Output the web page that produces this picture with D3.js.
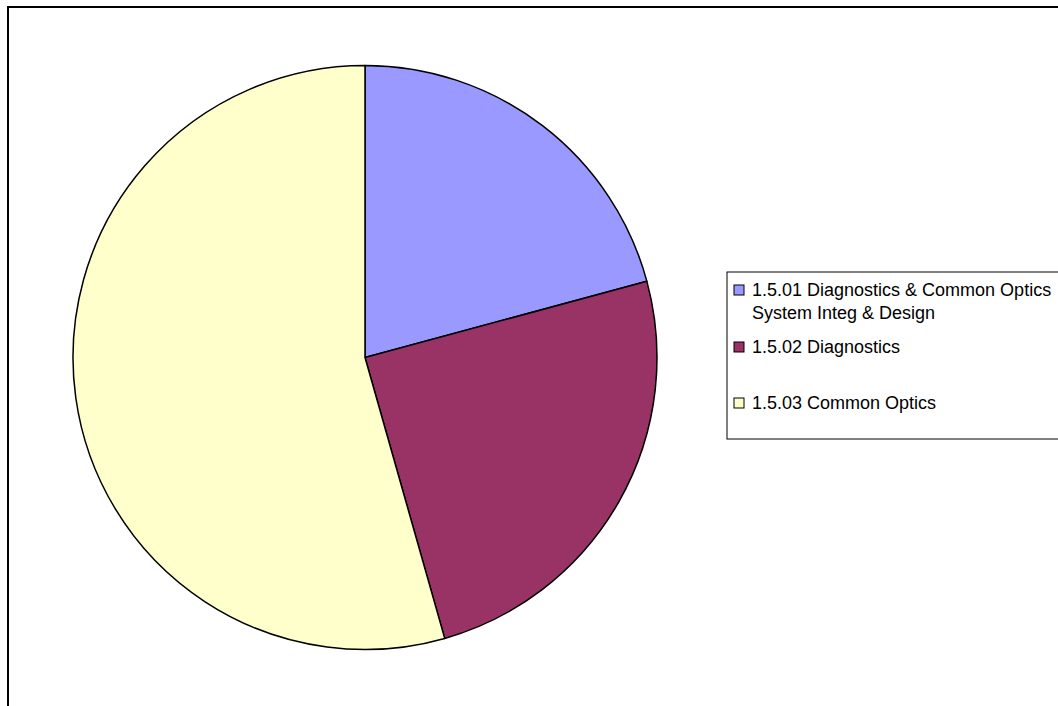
<!DOCTYPE html>
<html>
<head>
<meta charset="utf-8">
<script src="https://cdn.jsdelivr.net/npm/d3@7"></script>
<style>
  body { margin: 0; background: #fff; }
  svg { display: block; }
</style>
</head>
<body>
<div class="content"></div>
<script>
// data
var categories = ["1.5.01 Diagnostics & Common Optics System Integ & Design", "1.5.02 Diagnostics", "1.5.03 Common Optics"];
var values = [20.8, 24.8, 54.4];
var legendLines = [["1.5.01 Diagnostics & Common Optics", "System Integ & Design"], ["1.5.02 Diagnostics"], ["1.5.03 Common Optics"]];
var colors = ["#9999ff", "#993366", "#ffffcc"];

var width = 1058, height = 706;

var svg = d3.select(".content")
    .append("svg")
    .attr("width", width)
    .attr("height", height);

// chart frame (runs off right and bottom)
svg.append("rect")
    .attr("x", 8)
    .attr("y", 7)
    .attr("width", width + 20)
    .attr("height", height + 20)
    .attr("fill", "#fff")
    .attr("stroke", "#000")
    .attr("stroke-width", 2);

var cx = 365, cy = 357.5, radius = 292;

var pie = d3.pie().sort(null).value(function(d) { return d; });
var arc = d3.arc().innerRadius(0).outerRadius(radius);

var g = svg.append("g")
    .attr("transform", "translate(" + cx + "," + cy + ")");

g.selectAll("path")
    .data(pie(values))
    .enter()
    .append("path")
    .attr("d", arc)
    .attr("fill", function(d, i) { return colors[i]; })
    .attr("stroke", "#000")
    .attr("stroke-width", 1.5)
    .attr("stroke-linejoin", "round");

// legend
var legend = svg.append("g").attr("transform", "translate(727,272)");
legend.append("rect")
    .attr("x", 0).attr("y", 0)
    .attr("width", 400).attr("height", 167)
    .attr("fill", "#fff")
    .attr("stroke", "#000")
    .attr("stroke-width", 1);

var entryY = [17, 74, 130];
var items = legend.selectAll("g.item")
    .data(categories)
    .enter()
    .append("g")
    .attr("class", "item")
    .attr("transform", function(d, i) { return "translate(0," + entryY[i] + ")"; });

items.append("rect")
    .attr("x", 7).attr("y", -4)
    .attr("width", 10).attr("height", 10)
    .attr("fill", function(d, i) { return colors[i]; })
    .attr("stroke", "#000")
    .attr("stroke-width", 1);

items.each(function(d, i) {
    var t = d3.select(this).append("text")
        .attr("x", 25)
        .attr("y", 7)
        .attr("font-family", "'Liberation Sans', Arial, sans-serif")
        .attr("font-size", 18)
        .attr("fill", "#000");
    legendLines[i].forEach(function(line, j) {
        t.append("tspan").attr("x", 25).attr("dy", j === 0 ? 0 : 23).text(line);
    });
});
</script>
</body>
</html>
